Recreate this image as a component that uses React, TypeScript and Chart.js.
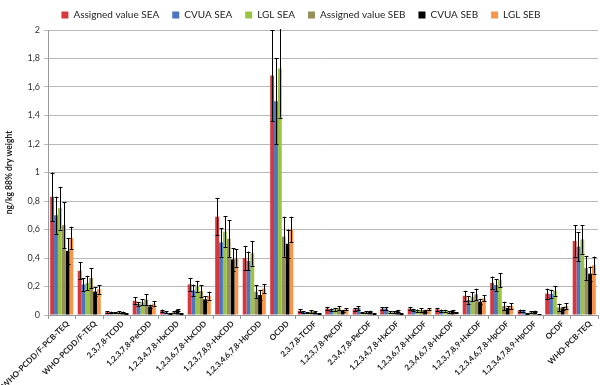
import React, { useEffect, useRef } from "react";
import { Chart, registerables } from "chart.js";

Chart.register(...registerables);

const categories = [
  "WHO-PCDD/F-PCB-TEQ",
  "WHO-PCDD/F-TEQ",
  "2,3,7,8-TCDD",
  "1,2,3,7,8-PeCDD",
  "1,2,3,4,7,8-HxCDD",
  "1,2,3,6,7,8-HxCDD",
  "1,2,3,7,8,9-HxCDD",
  "1,2,3,4,6,7,8-HpCDD",
  "OCDD",
  "2,3,7,8-TCDF",
  "1,2,3,7,8-PeCDF",
  "2,3,4,7,8-PeCDF",
  "1,2,3,4,7,8-HxCDF",
  "1,2,3,6,7,8-HxCDF",
  "2,3,4,6,7,8-HxCDF",
  "1,2,3,7,8,9-HxCDF",
  "1,2,3,4,6,7,8-HpCDF",
  "1,2,3,4,7,8,9-HpCDF",
  "OCDF",
  "WHO-PCB-TEQ",
];

const assignedSEA = [0.83, 0.31, 0.02, 0.10, 0.03, 0.215, 0.69, 0.40, 1.68, 0.03, 0.045, 0.04, 0.045, 0.045, 0.04, 0.135, 0.225, 0.03, 0.15, 0.52];
const errAssignedSEA = [0.17, 0.06, 0.005, 0.025, 0.008, 0.045, 0.13, 0.085, 0.32, 0.01, 0.012, 0.01, 0.01, 0.012, 0.01, 0.035, 0.045, 0.008, 0.035, 0.11];
const cvuaSEA = [0.70, 0.215, 0.02, 0.077, 0.02, 0.173, 0.51, 0.38, 1.50, 0.02, 0.035, 0.05, 0.045, 0.035, 0.03, 0.105, 0.21, 0.03, 0.147, 0.48];
const errCvuaSEA = [0.13, 0.045, 0.004, 0.015, 0.005, 0.04, 0.1, 0.065, 0.30, 0.005, 0.01, 0.012, 0.012, 0.008, 0.008, 0.025, 0.04, 0.006, 0.03, 0.1];
const lglSEA = [0.75, 0.225, 0.015, 0.089, 0.01, 0.20, 0.585, 0.433, 1.73, 0.015, 0.04, 0.015, 0.02, 0.03, 0.03, 0.128, 0.245, 0.01, 0.17, 0.53];
const errLglSEA = [0.15, 0.05, 0.003, 0.02, 0.003, 0.04, 0.11, 0.087, 0.345, 0.004, 0.01, 0.004, 0.005, 0.008, 0.006, 0.03, 0.05, 0.003, 0.035, 0.1];
const assignedSEB = [0.63, 0.26, 0.02, 0.108, 0.02, 0.168, 0.535, 0.164, 0.55, 0.025, 0.05, 0.02, 0.02, 0.035, 0.02, 0.145, 0.063, 0.02, 0.054, 0.33];
const errAssignedSEB = [0.16, 0.07, 0.006, 0.037, 0.005, 0.04, 0.13, 0.045, 0.14, 0.01, 0.012, 0.005, 0.006, 0.012, 0.005, 0.04, 0.03, 0.005, 0.025, 0.085];
const cvuaSEB = [0.45, 0.164, 0.02, 0.06, 0.035, 0.11, 0.39, 0.14, 0.50, 0.02, 0.03, 0.025, 0.03, 0.03, 0.03, 0.094, 0.05, 0.025, 0.047, 0.29];
const errCvuaSEB = [0.09, 0.03, 0.004, 0.012, 0.006, 0.02, 0.08, 0.035, 0.1, 0.005, 0.006, 0.005, 0.006, 0.006, 0.006, 0.02, 0.01, 0.005, 0.01, 0.05];
const lglSEB = [0.54, 0.18, 0.01, 0.08, 0.01, 0.135, 0.40, 0.185, 0.60, 0.01, 0.04, 0.01, 0.01, 0.04, 0.015, 0.117, 0.063, 0.005, 0.063, 0.35];
const errLglSEB = [0.08, 0.03, 0.002, 0.015, 0.002, 0.028, 0.06, 0.03, 0.09, 0.003, 0.008, 0.003, 0.003, 0.008, 0.004, 0.02, 0.02, 0.002, 0.02, 0.06];

const seriesNames = ["Assigned value SEA", "CVUA SEA", "LGL SEA", "Assigned value SEB", "CVUA SEB", "LGL SEB"];
const seriesValues = [assignedSEA, cvuaSEA, lglSEA, assignedSEB, cvuaSEB, lglSEB];
const seriesErrors = [errAssignedSEA, errCvuaSEA, errLglSEA, errAssignedSEB, errCvuaSEB, errLglSEB];
const seriesColors = ["#D6383E", "#4A76BD", "#9CC444", "#968F58", "#000000", "#F7964A"];

const FONT = "Lato, 'Open Sans', 'DejaVu Sans', sans-serif";

const errorBarPlugin = {
  id: "errorBars",
  afterDatasetsDraw(chart: any) {
    const ctx = chart.ctx;
    const yScale = chart.scales.y;
    const area = chart.chartArea;
    ctx.save();
    ctx.beginPath();
    ctx.rect(area.left, area.top - 1, area.right - area.left, area.bottom - area.top + 1);
    ctx.clip();
    ctx.strokeStyle = "#000000";
    ctx.lineWidth = 1;
    chart.data.datasets.forEach((ds: any, i: number) => {
      const meta = chart.getDatasetMeta(i);
      const errs = seriesErrors[i];
      meta.data.forEach((bar: any, j: number) => {
        const v = ds.data[j];
        const e = errs[j];
        const x = Math.round(bar.x) + 0.5;
        const yt = yScale.getPixelForValue(v + e);
        const yb = yScale.getPixelForValue(Math.max(0, v - e));
        ctx.beginPath();
        ctx.moveTo(x, yt);
        ctx.lineTo(x, yb);
        ctx.moveTo(x - 2, Math.round(yt) + 0.5);
        ctx.lineTo(x + 2, Math.round(yt) + 0.5);
        ctx.moveTo(x - 2, Math.round(yb) + 0.5);
        ctx.lineTo(x + 2, Math.round(yb) + 0.5);
        ctx.stroke();
      });
    });
    ctx.restore();
  },
};

export default function App() {
  const ref = useRef<HTMLCanvasElement>(null);

  useEffect(() => {
    if (!ref.current) return;
    const chart = new Chart(ref.current, {
      type: "bar",
      data: {
        labels: categories,
        datasets: seriesNames.map((name, i) => ({
          label: name,
          data: seriesValues[i],
          backgroundColor: seriesColors[i],
          borderWidth: 0,
          categoryPercentage: 0.84,
          barPercentage: 1.0,
        })),
      },
      options: {
        animation: false,
        responsive: false,
        maintainAspectRatio: false,
        layout: { padding: { top: -3, right: 2, left: 4, bottom: 0 } },
        plugins: {
          legend: {
            position: "top",
            labels: {
              boxWidth: 7,
              boxHeight: 7,
              padding: 13,
              color: "#222",
              font: { family: FONT, size: 10 },
            },
          },
          tooltip: { enabled: false },
        },
        scales: {
          x: {
            afterFit: (scale: any) => {
              scale.height = 70;
              scale.paddingLeft = 0;
              scale.paddingRight = 0;
            },
            grid: {
              display: true,
              drawOnChartArea: false,
              drawTicks: true,
              tickLength: 4,
              color: "#999",
              offset: true,
            },
            border: { color: "#999" },
            ticks: {
              autoSkip: false,
              maxRotation: 45,
              minRotation: 45,
              labelOffset: 6,
              color: "#222",
              font: { family: FONT, size: 8, weight: "bold" },
              padding: 0,
            },
          },
          y: {
            min: 0,
            max: 2,
            afterFit: (scale: any) => {
              scale.width = 44;
              scale.paddingTop = 0;
              scale.paddingBottom = 0;
            },
            ticks: {
              stepSize: 0.2,
              color: "#333",
              font: { family: FONT, size: 9 },
              padding: 4,
              callback: (v: any) => {
                const n = Math.round(Number(v) * 10) / 10;
                return String(n).replace(".", ",");
              },
            },
            grid: { color: "#b8b8b8", lineWidth: 1, tickLength: 4 },
            border: { color: "#999" },
            title: {
              display: true,
              text: "ng/kg 88% dry weight",
              color: "#222",
              font: { family: FONT, size: 8.5, weight: "bold" },
              padding: { top: 0, bottom: 6 },
            },
          },
        },
      },
      plugins: [errorBarPlugin],
    });
    return () => chart.destroy();
  }, []);

  return (
    <div style={{ position: "fixed", left: 0, top: 0, width: 600, height: 385, background: "#fff" }}>
      <canvas ref={ref} width={600} height={385} style={{ width: 600, height: 385 }} />
    </div>
  );
}
